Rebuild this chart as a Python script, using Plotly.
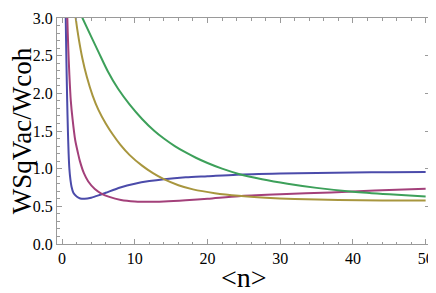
import plotly.graph_objects as go

# Data
blue_x = [0.45, 0.5, 0.6, 0.7, 0.8, 0.9, 1.0, 1.15, 1.3, 1.55, 2.0, 2.5, 3.1, 4.0, 5.0, 6.0, 8.0, 10, 12, 14, 17, 20, 24, 30, 35, 40, 45, 50]
blue_y = [3.4, 3.0, 2.4, 1.9, 1.5, 1.2, 1.0, 0.85, 0.76, 0.68, 0.63, 0.605, 0.60, 0.615, 0.645, 0.68, 0.75, 0.80, 0.835, 0.86, 0.885, 0.90, 0.92, 0.935, 0.943, 0.95, 0.954, 0.957]

mag_x = [0.65, 0.72, 0.85, 1.0, 1.2, 1.45, 1.8, 2.2, 2.45, 3.0, 3.6, 4.5, 5.4, 6.5, 8.1, 10, 12, 14, 17, 20, 24.3, 30, 37, 43, 50]
mag_y = [3.4, 3.0, 2.6, 2.25, 1.9, 1.65, 1.38, 1.2, 1.1, 0.94, 0.83, 0.73, 0.67, 0.625, 0.585, 0.565, 0.56, 0.565, 0.58, 0.60, 0.635, 0.66, 0.685, 0.71, 0.735]

olive_x = [1.5, 1.87, 2.3, 2.8, 3.4, 4.2, 5.0, 6.0, 7.0, 8.0, 9.3, 11, 12.5, 14, 16, 18, 21, 24.3, 28, 32, 38, 44, 50]
olive_y = [3.35, 3.0, 2.72, 2.46, 2.22, 1.97, 1.78, 1.6, 1.45, 1.32, 1.18, 1.04, 0.94, 0.86, 0.78, 0.725, 0.675, 0.64, 0.615, 0.598, 0.585, 0.579, 0.577]

green_x = [1.5, 2.8, 5.0, 6.3, 7.7, 9.3, 11, 12.7, 14, 15.5, 17, 18.4, 20, 22, 24.3, 27.5, 31, 35, 40, 45, 50]
green_y = [3.28, 3.0, 2.55, 2.29, 2.06, 1.85, 1.66, 1.5, 1.4, 1.3, 1.215, 1.145, 1.075, 1.0, 0.93, 0.86, 0.80, 0.745, 0.695, 0.66, 0.63]

x_ticks = [0, 10, 20, 30, 40, 50]
y_ticks = [0.0, 0.5, 1.0, 1.5, 2.0, 2.5, 3.0]

series = [
    (blue_x, blue_y, "#4B4BAA"),
    (mag_x, mag_y, "#A3407A"),
    (olive_x, olive_y, "#A8963E"),
    (green_x, green_y, "#3DA05A"),
]

fig = go.Figure()
for xs, ys, col in series:
    fig.add_trace(go.Scatter(x=xs, y=ys, mode="lines",
                             line=dict(color=col, width=2, shape="spline", smoothing=0.8),
                             showlegend=False, hoverinfo="skip"))

font = dict(family="Liberation Serif", size=16, color="black")
axis_common = dict(showgrid=False, zeroline=False, showline=True, linecolor="#9a9a9a",
                   linewidth=1, mirror="ticks", ticks="inside", ticklen=5, tickcolor="#9a9a9a",
                   tickfont=font, ticklabeloverflow="allow")

# page body has an 8px margin, so the figure is sized/offset to compensate
fig.update_layout(
    width=428, height=285,
    margin=dict(l=49, r=4, t=2, b=49),
    paper_bgcolor="white", plot_bgcolor="white",
    xaxis=dict(range=[-0.7, 50.6], tickvals=x_ticks, ticktext=[str(v) for v in x_ticks],
               minor=dict(dtick=2, tick0=0, ticks="inside", ticklen=2.5, tickcolor="#9a9a9a"),
               **axis_common),
    yaxis=dict(range=[0, 3], tickvals=y_ticks, ticktext=[f"{v:.1f}" for v in y_ticks],
               minor=dict(dtick=0.1, tick0=0, ticks="inside", ticklen=2.5, tickcolor="#9a9a9a"),
               **axis_common),
    annotations=[
        dict(text="WSqVac/Wcoh", xref="paper", yref="paper", x=-0.093, y=0.5,
             xanchor="center", yanchor="middle", textangle=-90, showarrow=False,
             font=dict(family="Liberation Serif", size=27, color="black")),
        dict(text="&lt;n&gt;", xref="paper", yref="paper", x=0.501, y=-0.15,
             xanchor="center", yanchor="middle", showarrow=False,
             font=dict(family="Liberation Serif", size=28, color="black")),
    ],
)

fig.write_html("out.html")
